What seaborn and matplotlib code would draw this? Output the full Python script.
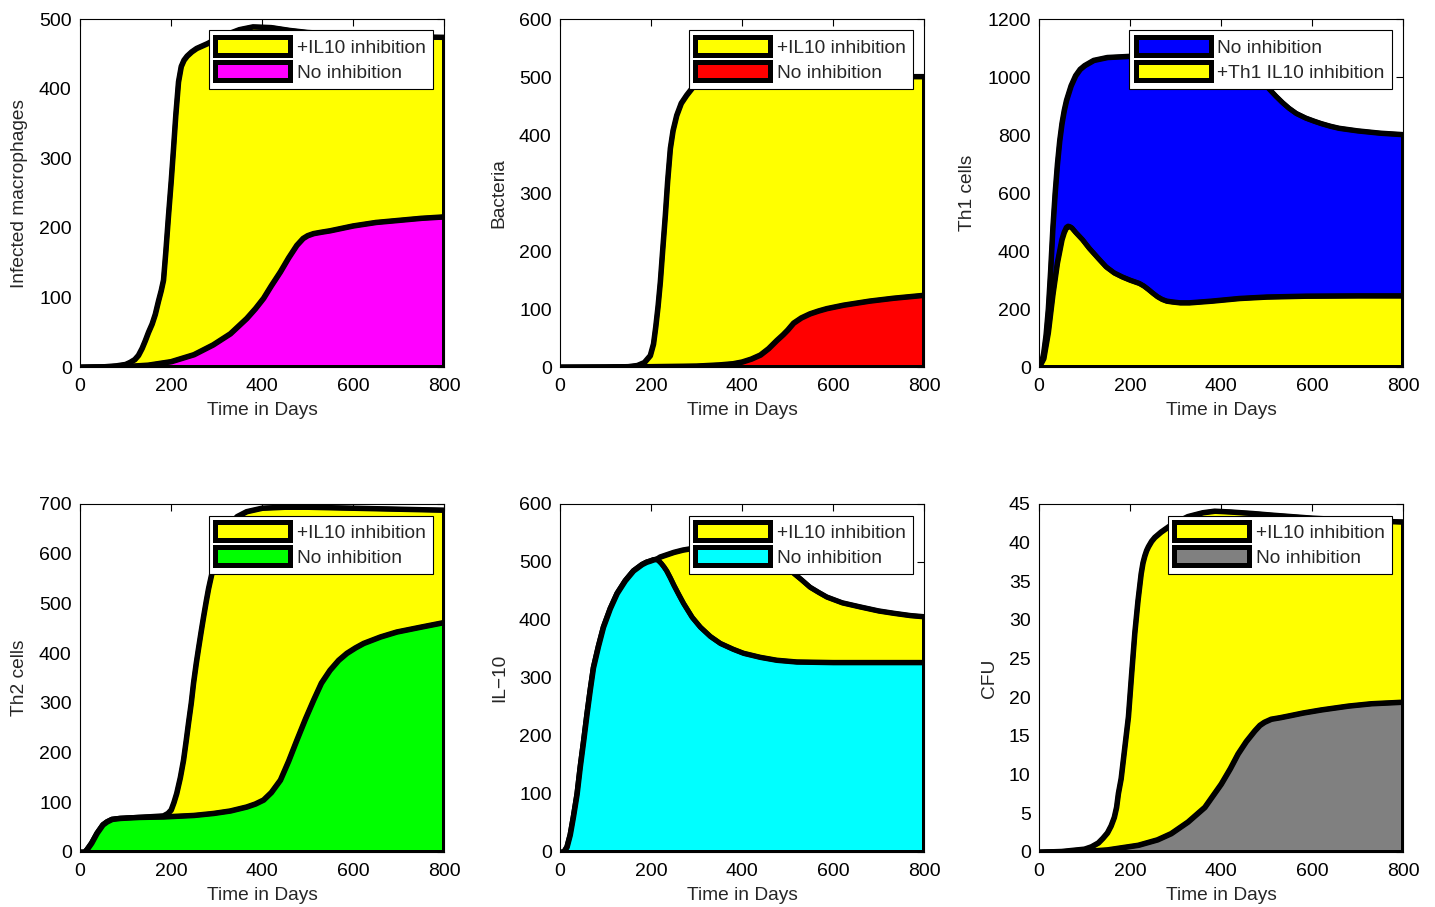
import matplotlib
matplotlib.use("Agg")
import matplotlib.pyplot as plt
from matplotlib.patches import Patch
import seaborn as sns

# ---------------- data ----------------
# Panel 1: infected macrophages
mac_il10_days = [0, 50, 80, 100, 110, 120, 128, 136, 143, 150, 158, 165, 172, 178, 183, 188, 194, 200, 205,
                 210, 216, 222, 228, 235, 245, 256, 280, 300, 330, 350, 380, 420, 460, 500, 600, 700, 800]
mac_il10_vals = [0, 0.5, 2, 4, 7, 11, 17, 27, 38, 50, 62, 76, 95, 110, 125, 165, 218, 268, 314,
                 362, 410, 432, 441, 447, 453, 458, 465, 472, 480, 485, 489, 488, 484, 481, 477, 475, 474]
mac_no_days = [0, 100, 150, 200, 250, 292, 330, 366, 385, 403, 420, 440, 458, 476, 490, 500, 513, 530,
               549, 600, 650, 700, 750, 800]
mac_no_vals = [0, 1, 3, 8, 18, 32, 48, 70, 84, 99, 117, 137, 157, 175, 185, 189, 192, 194,
               196, 203, 208, 211, 214, 216]

# Panel 2: bacteria
bac_il10_days = [0, 100, 150, 170, 185, 198, 205, 210, 215, 220, 225, 231, 236, 242, 248, 256, 266, 278,
                 292, 308, 330, 350, 400, 500, 600, 700, 800]
bac_il10_vals = [0, 0, 1, 3, 8, 20, 40, 70, 105, 147, 200, 262, 320, 377, 408, 434, 455, 469,
                 483, 492, 497, 499, 500, 501, 501, 501, 501]
bac_no_days = [0, 200, 300, 350, 380, 400, 420, 440, 458, 476, 490, 500, 513, 530, 549, 568, 586, 623,
               680, 733, 800]
bac_no_vals = [0, 1, 2, 4, 6, 9, 14, 21, 32, 46, 56, 64, 76, 85, 92, 97, 101, 107,
               114, 119, 124]

# Panel 3: Th1 cells
th1_no_days = [0, 5, 10, 15, 20, 25, 30, 35, 40, 45, 50, 55, 60, 70, 80, 90, 100, 120, 150, 200, 300,
               380, 410, 430, 445, 460, 475, 490, 505, 520, 535, 549, 565, 586, 605, 620, 640, 659,
               700, 750, 800]
th1_no_vals = [0, 10, 50, 110, 200, 330, 480, 600, 700, 780, 840, 885, 920, 970, 1005, 1027, 1040, 1058,
               1068, 1072, 1072, 1070, 1064, 1055, 1042, 1025, 1005, 985, 960, 935, 912, 893, 875, 859,
               848, 840, 831, 824, 815, 807, 802]
th1_il10_days = [0, 10, 20, 30, 40, 50, 55, 60, 64, 68, 72, 80, 95, 110, 130, 147, 165, 183, 200, 220,
                 230, 240, 250, 260, 270, 280, 293, 310, 330, 380, 440, 500, 586, 700, 800]
th1_il10_vals = [0, 30, 120, 250, 360, 440, 465, 482, 486, 484, 480, 465, 440, 410, 375, 346, 325, 311,
                 300, 289, 280, 268, 255, 243, 234, 228, 225, 222, 222, 228, 237, 242, 245, 246, 246]

# Panel 4: Th2 cells
th2_no_days = [0, 10, 15, 25, 37, 50, 59, 70, 88, 130, 183, 250, 293, 330, 366, 385, 403, 420, 440, 458,
               476, 495, 513, 530, 549, 568, 586, 605, 623, 660, 696, 750, 800]
th2_no_vals = [0, 0, 5, 18, 38, 55, 61, 66, 68, 70, 71, 74, 78, 83, 91, 97, 105, 120, 145, 183,
               225, 268, 306, 340, 366, 386, 400, 411, 420, 433, 443, 453, 462]
th2_il10_days = [0, 10, 15, 25, 37, 50, 59, 70, 88, 130, 183, 193, 200, 206, 212, 220, 227, 233, 238,
                 244, 249, 255, 260, 266, 271, 277, 282, 288, 293, 300, 310, 320, 330, 345, 366, 400,
                 450, 500, 600, 700, 800]
th2_il10_vals = [0, 0, 5, 18, 38, 55, 61, 66, 68, 70, 73, 78, 85, 100, 118, 150, 185, 225, 260,
                 300, 340, 380, 410, 445, 473, 505, 530, 555, 574, 600, 625, 645, 660, 675, 685, 692,
                 694, 694, 692, 690, 688]

# Panel 5: IL-10
il10_no_days = [0, 8, 15, 22, 29, 37, 44, 52, 59, 66, 73, 84, 95, 110, 125, 143, 161, 180, 190, 198,
                205, 212, 217, 222, 228, 234, 242, 250, 260, 271, 290, 308, 330, 352, 380, 403, 440,
                476, 520, 600, 700, 800]
il10_no_vals = [0, 0, 9, 30, 61, 100, 147, 195, 239, 280, 318, 355, 388, 420, 446, 468, 485, 496, 500,
                502, 504, 505, 502, 498, 492, 485, 473, 460, 445, 429, 405, 388, 372, 360, 350, 343,
                336, 331, 328, 327, 327, 327]
il10_il10_days = [0, 8, 15, 22, 29, 37, 44, 52, 59, 66, 73, 84, 95, 110, 125, 143, 161, 180, 190, 198,
                  205, 212, 216, 220, 235, 250, 270, 293, 320, 350, 380, 400, 425, 450, 475, 500, 513,
                  530, 549, 568, 586, 620, 659, 700, 733, 770, 800]
il10_il10_vals = [0, 0, 9, 30, 61, 100, 147, 195, 239, 280, 318, 355, 388, 420, 446, 468, 485, 496, 500,
                  502, 504, 505, 507, 509, 513, 517, 521, 524, 526, 527, 527, 525, 519, 510, 500, 490,
                  481, 470, 457, 448, 440, 430, 423, 416, 412, 408, 406]

# Panel 6: CFU
cfu_il10_days = [0, 50, 100, 115, 130, 140, 150, 158, 165, 170, 174, 180, 185, 190, 196, 203, 210, 217,
                 224, 228, 232, 236, 240, 247, 254, 268, 285, 300, 327, 360, 386, 420, 470, 510, 600,
                 700, 800]
cfu_il10_vals = [0, 0.1, 0.4, 0.7, 1.2, 1.8, 2.5, 3.4, 4.5, 5.8, 7.6, 9.5, 12, 14.5, 17.5, 23, 28.3,
                 32.5, 36, 37.4, 38.3, 39, 39.5, 40.2, 40.7, 41.4, 42.1, 42.6, 43.4, 43.9, 44.1, 44.0,
                 43.8, 43.6, 43.2, 42.9, 42.7]
cfu_no_days = [0, 100, 150, 218, 260, 290, 327, 364, 400, 420, 437, 455, 474, 485, 495, 510, 530, 547,
               580, 620, 680, 730, 800]
cfu_no_vals = [0, 0.1, 0.3, 0.9, 1.6, 2.4, 3.9, 5.8, 8.8, 10.8, 12.7, 14.3, 15.7, 16.4, 16.8, 17.2,
               17.4, 17.6, 18.0, 18.4, 18.9, 19.2, 19.4]

x_ticks = [0, 200, 400, 600, 800]
x_label = "Time in Days"

panels = [
    dict(ylabel="Infected macrophages", ymax=500, ystep=100,
         series=[("+IL10 inhibition", "#ffff00", mac_il10_days, mac_il10_vals),
                 ("No inhibition", "#ff00ff", mac_no_days, mac_no_vals)]),
    dict(ylabel="Bacteria", ymax=600, ystep=100,
         series=[("+IL10 inhibition", "#ffff00", bac_il10_days, bac_il10_vals),
                 ("No inhibition", "#ff0000", bac_no_days, bac_no_vals)]),
    dict(ylabel="Th1 cells", ymax=1200, ystep=200,
         series=[("No inhibition", "#0000ff", th1_no_days, th1_no_vals),
                 ("+Th1 IL10 inhibition", "#ffff00", th1_il10_days, th1_il10_vals)]),
    dict(ylabel="Th2 cells", ymax=700, ystep=100,
         series=[("+IL10 inhibition", "#ffff00", th2_il10_days, th2_il10_vals),
                 ("No inhibition", "#00ff00", th2_no_days, th2_no_vals)]),
    dict(ylabel="IL\u221210", ymax=600, ystep=100,
         series=[("+IL10 inhibition", "#ffff00", il10_il10_days, il10_il10_vals),
                 ("No inhibition", "#00ffff", il10_no_days, il10_no_vals)]),
    dict(ylabel="CFU", ymax=45, ystep=5,
         series=[("+IL10 inhibition", "#ffff00", cfu_il10_days, cfu_il10_vals),
                 ("No inhibition", "#808080", cfu_no_days, cfu_no_vals)]),
]

# ---------------- style ----------------
sns.set_style("white")
plt.rcParams['font.family'] = ['Liberation Sans', 'DejaVu Sans']
plt.rcParams['axes.edgecolor'] = 'black'
plt.rcParams['axes.linewidth'] = 0.8

fig = plt.figure(figsize=(14.35, 9.07), dpi=100)
lefts = [80, 560, 1039]
tops = [19, 504]
W, H = 1435.0, 907.0
aw, ah = 364, 348

LW = 3.6
for i, p in enumerate(panels):
    r, c = divmod(i, 3)
    ax = fig.add_axes([lefts[c] / W, 1 - (tops[r] + ah) / H, aw / W, ah / H])
    handles = []
    for k, (lab, col, d, v) in enumerate(p["series"]):
        ax.fill_between(d, 0, v, facecolor=col, edgecolor='black', linewidth=LW,
                        joinstyle='round', zorder=2 + 2 * k)
        sns.lineplot(x=d, y=v, ax=ax, color='black', linewidth=LW, estimator=None,
                     sort=False, zorder=3 + 2 * k, solid_joinstyle='round',
                     solid_capstyle='round')
        handles.append(Patch(facecolor=col, edgecolor='black', linewidth=LW,
                             joinstyle='round', label=lab))
    ax.set_xlim(0, 800)
    ax.set_ylim(0, p["ymax"])
    ax.set_xticks(x_ticks)
    yt = []
    y = 0
    while y <= p["ymax"] + 1e-9:
        yt.append(y)
        y += p["ystep"]
    ax.set_yticks(yt)
    ax.tick_params(direction='in', top=True, right=True, length=5, width=0.8,
                   labelsize=14, colors='black')
    ax.tick_params(axis='x', pad=8)
    ax.tick_params(axis='y', pad=6)
    ax.set_xlabel(x_label, fontsize=13.8, labelpad=5)
    ax.set_ylabel(p["ylabel"], fontsize=13.8, labelpad=8)
    for s in ax.spines.values():
        s.set_visible(True)
        s.set_color('black')
        s.set_linewidth(0.8)
        s.set_zorder(20)
    leg = ax.legend(handles=handles, loc='upper right', fontsize=13.8,
                    handlelength=3.9, handleheight=1.05, handletextpad=0.35,
                    labelspacing=0.3, borderpad=0.35, borderaxespad=0.6,
                    fancybox=False, framealpha=1, edgecolor='black')
    leg.get_frame().set_linewidth(0.8)
    leg.set_zorder(30)

fig.savefig("out.png", dpi=100)
